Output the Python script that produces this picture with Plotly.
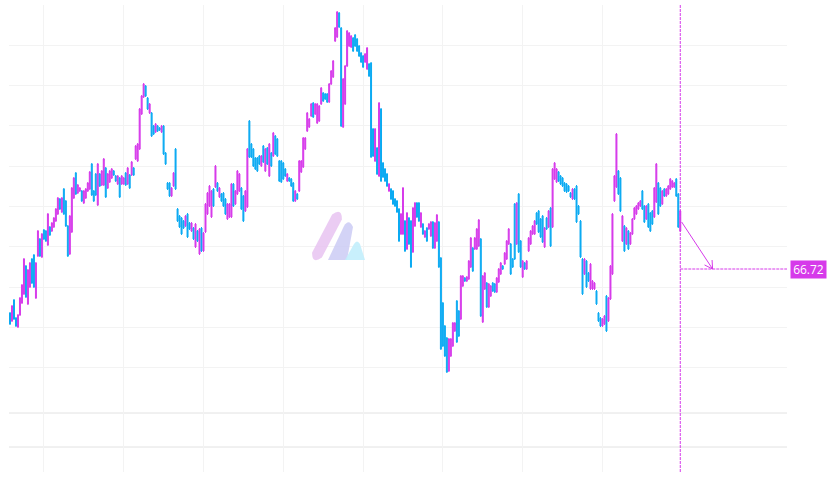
import math
import plotly.graph_objects as go

# ---------------- data ----------------
open_ = [
    66.28, 66.20, 66.41, 66.23, 66.14, 66.26, 66.38, 66.47, 66.75, 66.37,
    66.54, 66.82, 66.86, 66.43, 66.85, 67.02, 66.84, 67.11, 67.10, 66.96,
    67.14, 67.10, 67.14, 67.20, 67.27, 67.42, 67.29, 67.52, 67.40, 67.15,
    66.87, 67.09, 67.43, 67.68, 67.48, 67.50, 67.50, 67.38, 67.43, 67.50,
    67.52, 67.77, 67.50, 67.67, 67.36, 67.67, 67.56, 67.56, 67.73, 67.53,
    67.59, 67.63, 67.70, 67.65, 67.57, 67.63, 67.57, 67.57, 67.68, 67.57,
    67.66, 67.66, 67.73, 67.82, 67.80, 67.92, 68.27, 68.44, 68.55, 68.43,
    68.28, 68.28, 68.15, 68.09, 68.15, 68.13, 68.09, 68.15, 67.88, 67.58,
    67.58, 67.45, 67.55, 67.92, 67.32, 67.25, 67.23, 67.20, 67.15, 67.27,
    67.18, 67.10, 67.13, 66.94, 67.10, 66.87, 67.13, 66.90, 67.09, 67.27,
    67.35, 67.24, 67.52, 67.54, 67.58, 67.44, 67.47, 67.48, 67.42, 67.22,
    67.24, 67.24, 67.57, 67.37, 67.47, 67.50, 67.53, 67.45, 67.30, 67.34,
    68.20, 67.97, 67.92, 67.83, 67.83, 67.85, 67.75, 67.95, 67.70, 67.93,
    67.65, 67.88, 67.85, 68.05, 68.02, 67.80, 67.80, 67.78, 67.72, 67.60,
    67.63, 67.62, 67.58, 67.40, 67.47, 67.50, 67.69, 67.74, 67.92, 68.10,
    68.14, 68.25, 68.38, 68.27, 68.18, 68.20, 68.37, 68.48, 68.47, 68.47,
    68.39, 68.57, 68.64, 69.00, 69.04, 69.28, 69.13, 68.14, 68.37, 68.75,
    68.95, 68.94, 69.03, 69.06, 69.02, 68.95, 68.88, 68.85, 68.79, 68.72,
    68.77, 68.78, 68.12, 67.80, 67.93, 67.65, 68.32, 67.78, 67.72, 67.67,
    67.50, 67.52, 67.50, 67.42, 67.40, 67.32, 67.07, 67.07, 67.20, 66.92,
    67.23, 67.20, 66.89, 67.15, 67.38, 67.38, 67.14, 67.17, 67.04, 67.13,
    67.12, 67.05, 67.19, 66.93, 67.00, 67.19, 66.83, 66.38, 66.15, 66.03,
    65.70, 65.85, 65.95, 66.10, 66.40, 66.30, 66.22, 66.55, 66.63, 66.60,
    66.62, 66.74, 66.93, 66.92, 66.92, 66.95, 67.02, 66.19, 66.52, 66.58,
    66.34, 66.45, 66.58, 66.57, 66.49, 66.59, 66.67, 66.75, 66.77, 66.82,
    66.97, 66.97, 66.82, 67.37, 66.97, 67.47, 67.00, 66.64, 66.78, 66.72,
    66.90, 66.97, 67.07, 67.07, 67.28, 67.30, 67.22, 67.25, 66.94, 67.23,
    67.14, 67.33, 67.14, 67.62, 67.59, 67.69, 67.65, 67.63, 67.58, 67.57,
    67.55, 67.48, 67.42, 67.52, 67.55, 67.35, 67.20, 66.82, 66.67, 66.80,
    66.68, 66.52, 66.52, 66.52, 66.50, 66.28, 66.23, 66.15, 66.17, 66.45,
    66.20, 66.42, 66.67, 67.40, 67.54, 67.70, 67.63, 67.00, 67.15, 66.97,
    67.10, 66.97, 67.07, 67.22, 67.27, 67.32, 67.35, 67.50, 67.35, 67.22,
    67.37, 67.28, 67.30, 67.24, 67.39, 67.58, 67.53, 67.37, 67.52, 67.45,
    67.47, 67.52, 67.54, 67.54, 67.62, 67.47, 67.10,
]
high = [
    66.29, 66.36, 66.42, 66.24, 66.27, 66.44, 66.57, 66.83, 66.76, 66.72,
    66.79, 66.83, 66.87, 66.79, 67.11, 67.03, 67.08, 67.12, 67.11, 67.28,
    67.15, 67.19, 67.24, 67.33, 67.44, 67.43, 67.44, 67.53, 67.41, 67.16,
    67.26, 67.54, 67.64, 67.69, 67.57, 67.54, 67.51, 67.51, 67.53, 67.59,
    67.70, 67.78, 67.51, 67.68, 67.78, 67.68, 67.71, 67.83, 67.74, 67.68,
    67.71, 67.73, 67.71, 67.66, 67.66, 67.64, 67.66, 67.64, 67.69, 67.74,
    67.67, 67.80, 67.74, 67.96, 67.98, 68.33, 68.46, 68.58, 68.56, 68.44,
    68.38, 68.29, 68.16, 68.18, 68.16, 68.14, 68.16, 68.16, 67.89, 67.59,
    67.59, 67.54, 67.69, 67.93, 67.33, 67.26, 67.24, 67.21, 67.26, 67.28,
    67.19, 67.19, 67.14, 67.18, 67.11, 67.13, 67.14, 67.09, 67.38, 67.49,
    67.56, 67.51, 67.53, 67.76, 67.59, 67.54, 67.48, 67.49, 67.43, 67.38,
    67.38, 67.58, 67.58, 67.51, 67.71, 67.68, 67.54, 67.46, 67.51, 67.93,
    68.21, 67.98, 67.93, 67.84, 67.84, 67.86, 67.86, 67.96, 67.93, 67.94,
    67.98, 67.89, 68.09, 68.06, 68.03, 67.81, 67.81, 67.79, 67.73, 67.68,
    67.64, 67.63, 67.59, 67.51, 67.48, 67.81, 67.81, 68.04, 68.04, 68.29,
    68.23, 68.38, 68.39, 68.38, 68.38, 68.36, 68.54, 68.49, 68.48, 68.48,
    68.58, 68.71, 68.81, 69.14, 69.30, 69.29, 69.14, 68.63, 68.76, 69.11,
    69.09, 69.06, 69.04, 69.07, 69.03, 68.96, 68.89, 68.86, 68.88, 68.94,
    68.78, 68.79, 68.13, 68.13, 67.94, 68.39, 68.33, 67.79, 67.73, 67.68,
    67.58, 67.53, 67.51, 67.43, 67.41, 67.33, 67.28, 67.54, 67.21, 67.29,
    67.24, 67.21, 67.34, 67.39, 67.39, 67.39, 67.29, 67.18, 67.11, 67.14,
    67.18, 67.20, 67.20, 67.19, 67.27, 67.20, 66.84, 66.39, 66.16, 66.04,
    66.03, 66.03, 66.19, 66.19, 66.41, 66.31, 66.66, 66.66, 66.64, 66.65,
    66.81, 67.04, 66.94, 67.04, 67.13, 67.22, 67.03, 66.66, 66.69, 66.59,
    66.58, 66.56, 66.59, 66.58, 66.64, 66.73, 66.79, 66.76, 66.89, 67.01,
    67.13, 66.98, 66.83, 67.38, 67.39, 67.48, 67.01, 66.81, 66.79, 66.81,
    67.04, 67.11, 67.16, 67.21, 67.29, 67.31, 67.23, 67.26, 67.14, 67.24,
    67.31, 67.34, 67.73, 67.79, 67.73, 67.70, 67.66, 67.64, 67.59, 67.58,
    67.56, 67.49, 67.53, 67.53, 67.56, 67.36, 67.21, 66.83, 66.83, 66.81,
    66.69, 66.78, 66.61, 66.59, 66.51, 66.29, 66.24, 66.23, 66.26, 66.46,
    66.44, 66.76, 67.28, 67.66, 68.08, 67.71, 67.64, 67.26, 67.16, 67.14,
    67.11, 67.09, 67.23, 67.34, 67.36, 67.39, 67.41, 67.51, 67.36, 67.36,
    67.38, 67.29, 67.31, 67.54, 67.78, 67.59, 67.54, 67.51, 67.53, 67.53,
    67.56, 67.63, 67.61, 67.59, 67.63, 67.48, 67.31,
]
low = [
    66.16, 66.19, 66.21, 66.14, 66.13, 66.25, 66.37, 66.46, 66.43, 66.36,
    66.53, 66.57, 66.53, 66.42, 66.84, 66.84, 66.83, 67.01, 66.99, 66.95,
    67.05, 67.09, 67.13, 67.19, 67.26, 67.31, 67.28, 67.26, 67.14, 66.84,
    66.86, 67.08, 67.42, 67.46, 67.47, 67.49, 67.39, 67.37, 67.42, 67.49,
    67.51, 67.45, 67.39, 67.45, 67.35, 67.54, 67.55, 67.55, 67.43, 67.52,
    67.58, 67.62, 67.65, 67.59, 67.56, 67.43, 67.56, 67.56, 67.55, 67.56,
    67.52, 67.65, 67.65, 67.81, 67.79, 67.91, 68.26, 68.43, 68.44, 68.31,
    68.27, 68.04, 68.06, 68.08, 68.09, 68.10, 68.08, 67.86, 67.76, 67.51,
    67.44, 67.44, 67.54, 67.51, 67.19, 67.13, 67.06, 67.12, 67.14, 67.03,
    67.11, 67.09, 67.01, 66.93, 66.99, 66.86, 66.89, 66.89, 67.08, 67.26,
    67.34, 67.23, 67.34, 67.53, 67.49, 67.43, 67.39, 67.34, 67.26, 67.21,
    67.23, 67.23, 67.34, 67.36, 67.46, 67.49, 67.31, 67.19, 67.29, 67.33,
    67.83, 67.83, 67.74, 67.71, 67.69, 67.76, 67.74, 67.78, 67.69, 67.76,
    67.64, 67.74, 67.84, 67.86, 67.84, 67.59, 67.58, 67.61, 67.64, 67.59,
    67.59, 67.54, 67.39, 67.39, 67.41, 67.49, 67.68, 67.73, 67.91, 68.09,
    68.13, 68.24, 68.23, 68.26, 68.17, 68.19, 68.36, 68.39, 68.41, 68.38,
    68.38, 68.56, 68.63, 68.99, 69.03, 69.13, 68.14, 68.13, 68.36, 68.74,
    68.94, 68.93, 68.89, 68.94, 68.89, 68.84, 68.78, 68.73, 68.78, 68.71,
    68.64, 67.83, 67.84, 67.79, 67.66, 67.64, 67.59, 67.63, 67.59, 67.54,
    67.49, 67.41, 67.36, 67.34, 67.28, 66.99, 67.06, 67.06, 66.89, 66.91,
    66.96, 66.73, 66.88, 67.14, 67.23, 67.19, 67.13, 67.06, 67.03, 66.99,
    67.11, 67.04, 66.92, 66.92, 66.99, 66.73, 65.91, 65.94, 65.84, 65.68,
    65.69, 65.84, 65.94, 66.09, 65.98, 66.04, 66.21, 66.54, 66.59, 66.59,
    66.61, 66.73, 66.69, 66.91, 66.91, 66.94, 66.24, 66.18, 66.51, 66.33,
    66.33, 66.44, 66.49, 66.48, 66.48, 66.58, 66.66, 66.71, 66.76, 66.81,
    66.96, 66.66, 66.73, 66.81, 66.96, 66.88, 66.73, 66.63, 66.71, 66.71,
    66.89, 66.96, 67.06, 67.06, 67.16, 67.08, 67.03, 66.98, 66.93, 67.11,
    67.13, 66.94, 67.13, 67.61, 67.58, 67.59, 67.56, 67.54, 67.49, 67.48,
    67.49, 67.43, 67.41, 67.41, 67.18, 67.26, 66.83, 66.46, 66.66, 66.53,
    66.59, 66.51, 66.51, 66.51, 66.36, 66.19, 66.14, 66.14, 66.16, 66.09,
    66.19, 66.41, 66.66, 67.39, 67.53, 67.46, 67.29, 66.99, 66.89, 66.96,
    66.91, 66.96, 67.06, 67.21, 67.26, 67.31, 67.34, 67.31, 67.18, 67.21,
    67.13, 67.09, 67.16, 67.23, 67.38, 67.26, 67.34, 67.36, 67.44, 67.44,
    67.46, 67.51, 67.53, 67.53, 67.44, 67.13, 67.09,
]
close = [
    66.17, 66.35, 66.22, 66.15, 66.26, 66.43, 66.56, 66.82, 66.44, 66.71,
    66.78, 66.58, 66.54, 66.78, 67.10, 66.85, 67.07, 67.02, 67.00, 67.27,
    67.06, 67.18, 67.23, 67.32, 67.43, 67.32, 67.43, 67.27, 67.15, 66.85,
    67.25, 67.53, 67.63, 67.47, 67.56, 67.53, 67.40, 67.50, 67.52, 67.58,
    67.69, 67.46, 67.40, 67.46, 67.77, 67.55, 67.70, 67.82, 67.44, 67.67,
    67.70, 67.72, 67.66, 67.60, 67.65, 67.44, 67.65, 67.63, 67.56, 67.73,
    67.53, 67.79, 67.66, 67.95, 67.97, 68.32, 68.45, 68.57, 68.45, 68.32,
    68.37, 68.05, 68.07, 68.17, 68.10, 68.11, 68.15, 67.87, 67.77, 67.52,
    67.45, 67.53, 67.68, 67.52, 67.20, 67.14, 67.07, 67.13, 67.25, 67.04,
    67.12, 67.18, 67.02, 67.17, 67.00, 67.12, 66.90, 67.08, 67.37, 67.48,
    67.55, 67.50, 67.35, 67.75, 67.50, 67.53, 67.40, 67.35, 67.27, 67.37,
    67.37, 67.57, 67.35, 67.50, 67.70, 67.67, 67.32, 67.20, 67.50, 67.92,
    67.84, 67.84, 67.75, 67.72, 67.70, 67.77, 67.85, 67.79, 67.92, 67.77,
    67.97, 67.75, 68.08, 67.87, 67.85, 67.60, 67.59, 67.62, 67.65, 67.67,
    67.60, 67.55, 67.40, 67.50, 67.42, 67.80, 67.80, 68.03, 68.03, 68.28,
    68.22, 68.37, 68.24, 68.37, 68.37, 68.35, 68.53, 68.40, 68.42, 68.39,
    68.57, 68.70, 68.80, 69.13, 69.29, 69.14, 68.15, 68.62, 68.75, 69.10,
    69.08, 69.05, 68.90, 68.95, 68.90, 68.85, 68.79, 68.74, 68.87, 68.93,
    68.65, 67.84, 67.85, 68.12, 67.67, 68.38, 67.60, 67.64, 67.60, 67.55,
    67.57, 67.42, 67.37, 67.35, 67.29, 67.00, 67.27, 67.53, 66.90, 67.28,
    66.97, 66.74, 67.33, 67.38, 67.24, 67.20, 67.28, 67.07, 67.10, 67.00,
    67.17, 67.19, 66.93, 67.18, 67.26, 66.74, 65.92, 65.95, 65.85, 65.69,
    66.02, 66.02, 66.18, 66.18, 65.99, 66.05, 66.65, 66.65, 66.60, 66.64,
    66.80, 67.03, 66.70, 67.03, 67.12, 67.21, 66.25, 66.65, 66.68, 66.34,
    66.57, 66.55, 66.50, 66.49, 66.63, 66.72, 66.78, 66.72, 66.88, 67.00,
    67.12, 66.67, 66.74, 66.82, 67.38, 66.89, 66.74, 66.80, 66.72, 66.80,
    67.03, 67.10, 67.15, 67.20, 67.17, 67.09, 67.04, 66.99, 67.13, 67.12,
    67.30, 66.95, 67.72, 67.78, 67.72, 67.60, 67.57, 67.55, 67.50, 67.49,
    67.50, 67.44, 67.52, 67.42, 67.19, 67.27, 66.84, 66.47, 66.82, 66.54,
    66.60, 66.77, 66.60, 66.58, 66.37, 66.20, 66.15, 66.22, 66.25, 66.10,
    66.43, 66.75, 67.27, 67.65, 68.07, 67.47, 67.30, 67.25, 66.90, 67.13,
    66.92, 67.08, 67.22, 67.33, 67.35, 67.38, 67.40, 67.32, 67.19, 67.35,
    67.14, 67.10, 67.17, 67.53, 67.77, 67.27, 67.35, 67.50, 67.45, 67.52,
    67.55, 67.62, 67.60, 67.58, 67.45, 67.14, 67.30,
]
bar_index = list(range(len(close)))

last_price = 66.72          # value shown in the price tag
cursor_index = 336          # bar under the crosshair
arrow_start = (336.7, 67.19)
arrow_end = (352.2, 66.72)

grid_x = [17, 57, 97, 137, 177, 217, 257, 297]
grid_y = [68.96, 68.56, 68.16, 67.75, 67.35, 66.95, 66.54, 66.14, 65.74]

# ---------------- style ----------------
UP = "#d63aea"
DOWN = "#0aaaf2"
W, H = 832, 497
ML, MR, MT, MB = 9, 45, 5, 25
XR = [-0.5, 389.5]
YR = [64.69, 69.36]
PW, PH = W - ML - MR, H - MT - MB

fig = go.Figure()
fig.add_trace(go.Candlestick(
    x=bar_index, open=open_, high=high, low=low, close=close,
    increasing=dict(line=dict(color=UP, width=1), fillcolor=UP),
    decreasing=dict(line=dict(color=DOWN, width=1), fillcolor=DOWN),
    whiskerwidth=0, showlegend=False, hoverinfo="skip",
))


def paper(x, y):
    return (x - ML) / PW, (H - MB - y) / PH


def path(cmds):
    out = []
    for c in cmds:
        if c[0] == "Z":
            out.append("Z")
        else:
            pts = [paper(*p) for p in c[1:]]
            out.append(c[0] + " " + " ".join(f"{a:.5f},{b:.5f}" for a, b in pts))
    return " ".join(out)


shapes = []
# lower pane separator lines
for yy in (413, 447):
    py = paper(0, yy)[1]
    shapes.append(dict(type="line", xref="paper", yref="paper", x0=0, x1=1, y0=py, y1=py,
                       line=dict(color="#e2e2e2", width=1), layer="below"))

# watermark logo
p0, p1, r = (317, 255), (337, 217), 5.5
dx, dy = p1[0] - p0[0], p1[1] - p0[1]
ln = math.hypot(dx, dy)
ux, uy = dx / ln, dy / ln
nx, ny = -uy, ux
A = (p0[0] - nx * r, p0[1] - ny * r)
B = (p0[0] + nx * r, p0[1] + ny * r)
Cc = (p1[0] + nx * r, p1[1] + ny * r)
D = (p1[0] - nx * r, p1[1] - ny * r)
top = (p1[0] + ux * 2 * r, p1[1] + uy * 2 * r)
bot = (p0[0] - ux * 2 * r, p0[1] - uy * 2 * r)
shapes.append(dict(type="path", xref="paper", yref="paper", layer="above",
                   path=path([("M", A), ("L", D), ("Q", top, Cc), ("L", B), ("Q", bot, A), ("Z",)]),
                   fillcolor="#e6bff0", opacity=0.8, line=dict(width=0)))
shapes.append(dict(type="path", xref="paper", yref="paper", layer="above",
                   path=path([("M", (328, 260)), ("L", (344, 226)), ("Q", (349, 218), (353, 227)),
                              ("L", (347, 260)), ("Z",)]),
                   fillcolor="#c8c8f4", opacity=0.8, line=dict(width=0)))
shapes.append(dict(type="path", xref="paper", yref="paper", layer="above",
                   path=path([("M", (345, 260)), ("L", (354, 244)), ("Q", (357, 239), (360, 244)),
                              ("L", (365, 260)), ("Z",)]),
                   fillcolor="#c2eefc", opacity=0.9, line=dict(width=0)))

# crosshair
shapes.append(dict(type="line", xref="x", yref="paper", x0=cursor_index, x1=cursor_index, y0=0, y1=1,
                   line=dict(color=UP, width=1, dash="3px,1px"), layer="above"))
shapes.append(dict(type="line", xref="x", yref="y", x0=cursor_index, x1=XR[1], y0=last_price, y1=last_price,
                   line=dict(color=UP, width=1, dash="3px,1px"), layer="above"))

# arrow
sx = PW / (XR[1] - XR[0])
sy = PH / (YR[1] - YR[0])
shapes.append(dict(type="line", xref="x", yref="y", x0=arrow_start[0], y0=arrow_start[1],
                   x1=arrow_end[0], y1=arrow_end[1], line=dict(color=UP, width=1), layer="above"))
vx = (arrow_end[0] - arrow_start[0]) * sx
vy = -(arrow_end[1] - arrow_start[1]) * sy
vl = math.hypot(vx, vy)
bx, by = -vx / vl, -vy / vl
for ang in (math.radians(30), math.radians(-30)):
    rx = bx * math.cos(ang) - by * math.sin(ang)
    ry = bx * math.sin(ang) + by * math.cos(ang)
    shapes.append(dict(type="line", xref="x", yref="y", x0=arrow_end[0], y0=arrow_end[1],
                       x1=arrow_end[0] + rx * 9 / sx, y1=arrow_end[1] - ry * 9 / sy,
                       line=dict(color=UP, width=1), layer="above"))

fig.update_layout(
    width=W, height=H,
    margin=dict(l=ML, r=MR, t=MT, b=MB),
    paper_bgcolor="white", plot_bgcolor="white",
    showlegend=False,
    hovermode=False,
    shapes=shapes,
    xaxis=dict(range=XR, rangeslider=dict(visible=False), showticklabels=False,
               tickvals=grid_x, showgrid=True, gridcolor="#f3f3f3", gridwidth=1,
               zeroline=False, showline=False, ticks=""),
    yaxis=dict(range=YR, showticklabels=False, tickvals=grid_y, showgrid=True,
               gridcolor="#f3f3f3", gridwidth=1, zeroline=False, showline=False, ticks=""),
    annotations=[dict(
        text=f"{last_price:.2f}", xref="paper", x=1, xanchor="left", xshift=3,
        yref="y", y=last_price, yanchor="middle", showarrow=False,
        bgcolor=UP, borderpad=1, width=33, height=15,
        font=dict(family="Open Sans, sans-serif", size=12, color="white"),
    )],
)

fig.write_html("out.html", config={"displayModeBar": False, "staticPlot": True},
               post_script="document.body.style.margin='0';document.body.style.overflow='hidden';")
